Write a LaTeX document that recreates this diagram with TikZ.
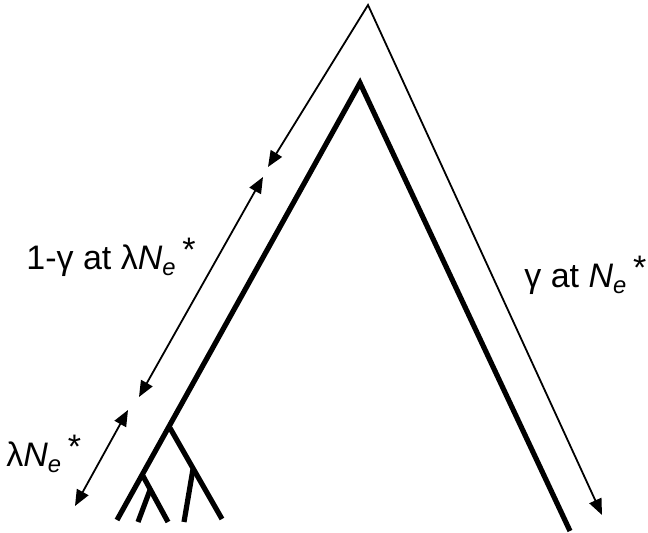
\documentclass[tikz,border=0pt]{standalone}
\usepackage{fontspec}
\setmainfont{Liberation Sans}
\usetikzlibrary{arrows.meta}
\tikzset{
  >={Triangle[length=8pt,width=6.5pt]},
  lineage/.style={line width=2.6pt},
  span/.style={<->,line width=0.9pt},
  lbl/.style={font=\fontsize{17}{20}\selectfont,inner sep=0pt,anchor=base west}
}
\newcommand{\Nestar}{\textit{N}\textsubscript{\textit{e}}\,\raisebox{0.45ex}{*}}

\begin{document}
\begin{tikzpicture}[x=0.5pt,y=-0.5pt]
  \useasboundingbox (0,0) rectangle (648,533);
  % outer time axis
  \coordinate (top) at (368,5);
  \coordinate (tl) at (268,167);
  \coordinate (tr) at (602,515);
  \draw[span] (tl)--(top)--(tr);

  % inner genealogy
  \coordinate (root) at (360,83);
  \coordinate (rootl) at (117,520);
  \coordinate (rootr) at (570,531);
  \draw[lineage] (rootl)--(root)--(rootr);

  \coordinate (ba) at (170,428);
  \coordinate (bae) at (222,519);
  \coordinate (bb) at (193,469);
  \coordinate (bbe) at (184,522);
  \coordinate (bc) at (143,476);
  \coordinate (bce) at (168,522);
  \coordinate (bd) at (150,490);
  \coordinate (bde) at (138,522);
  \draw[lineage] (ba)--(bae);
  \draw[lineage] (bb)--(bbe);
  \draw[lineage] (bc)--(bce);
  \draw[lineage] (bd)--(bde);

  % interval arrows
  \coordinate (ga) at (263,177);
  \coordinate (gb) at (139,397);
  \coordinate (la) at (128,410);
  \coordinate (lb) at (75,506);
  \draw[span] (ga)--(gb);
  \draw[span] (la)--(lb);

  \node[lbl] (gl) at (26,270) {1-γ at λ\Nestar};
  \node[lbl] (gr) at (524,288) {γ at \Nestar};
  \node[lbl] (ll) at (6,467) {λ\Nestar};
\end{tikzpicture}
\end{document}
